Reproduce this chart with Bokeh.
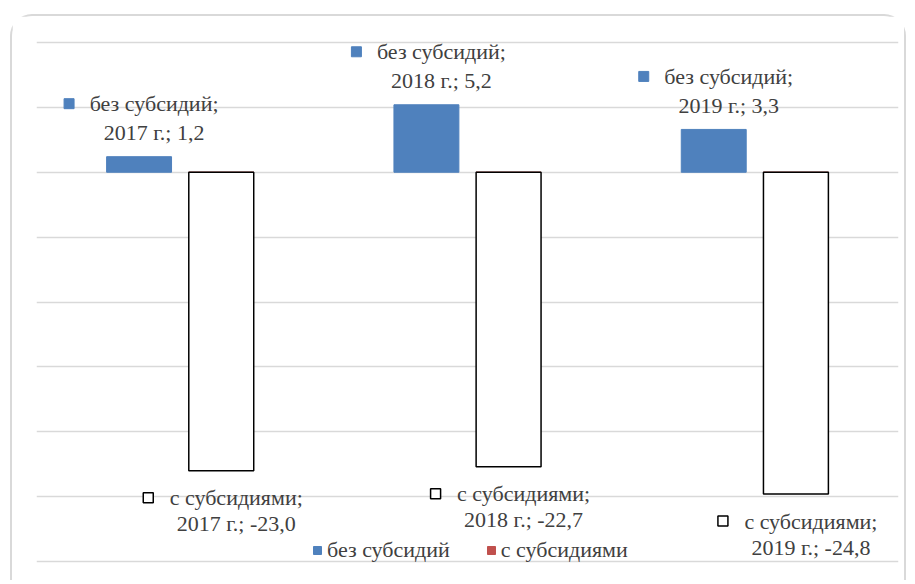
from bokeh.plotting import figure
from bokeh.models import ColumnDataSource, Range1d, FixedTicker, Legend, LegendItem
from bokeh.core.properties import value
from bokeh.embed import file_html
from bokeh.resources import INLINE

years = ["2017", "2018", "2019"]
without_subsidies = [1.2, 5.2, 3.3]
with_subsidies = [-23.0, -22.7, -24.8]
series_names = ["без субсидий", "с субсидиями"]
y_ticks = [-30, -25, -20, -15, -10, -5, 0, 5, 10]

BLUE = "#4F81BD"
RED = "#C0504D"
TEXT = "#404040"
GRID = "#d9d9d9"
FONT = "Liberation Serif"
FS = "22px"

W_PX, H_PX = 896, 566
ML, MR, MT, MB = 24, 10, 24, 19
FRAME_W = W_PX - ML - MR
FRAME_H = H_PX - MT - MB
PAD_PX = 2
UNIT_PX = (FRAME_H - 2 * PAD_PX) / 40.0
PX_X = 3 / FRAME_W
PX_Y = 1 / UNIT_PX
OFF = 0.143
BW = 0.226


def fmt(v):
    return f"{v:.1f}".replace(".", ",")


idx = list(range(len(years)))
xa = [i + 0.5 - OFF for i in idx]
xb = [i + 0.5 + OFF for i in idx]

src_a = ColumnDataSource(dict(
    x=xa, top=without_subsidies,
    tx=[x + 15 * PX_X for x in xa],
    kx=[x - 70 * PX_X for x in xa],
    y1=[v + 53 * PX_Y for v in without_subsidies],
    y2=[v + 24 * PX_Y for v in without_subsidies],
    line1=[series_names[0] + ";" for _ in years],
    line2=[f"{y} г.; {fmt(v)}" for y, v in zip(years, without_subsidies)],
))
src_b = ColumnDataSource(dict(
    x=xb, top=with_subsidies, zero=[0.0 for _ in years],
    tx=[x + 15 * PX_X for x in xb],
    kx=[x - 73 * PX_X for x in xb],
    y1=[v - 27 * PX_Y for v in with_subsidies],
    y2=[v - 53 * PX_Y for v in with_subsidies],
    line1=[series_names[1] + ";" for _ in years],
    line2=[f"{y} г.; {fmt(v)}" for y, v in zip(years, with_subsidies)],
))

p = figure(width=W_PX, height=H_PX, x_range=Range1d(0, 3),
           y_range=Range1d(-30 - PAD_PX * PX_Y, 10 + PAD_PX * PX_Y),
           output_backend="svg", toolbar_location=None,
           min_border_left=ML, min_border_right=MR, min_border_top=MT, min_border_bottom=MB)
p.styles = {"margin-left": "10px", "margin-top": "14px",
            "border": "2px solid #d9d9d9", "border-bottom": "none",
            "border-radius": "22px 22px 0 0"}
p.outline_line_color = None
p.xaxis.visible = False
p.yaxis.visible = False
p.xgrid.visible = False
p.ygrid.ticker = FixedTicker(ticks=y_ticks)
p.ygrid.grid_line_color = GRID
p.ygrid.grid_line_width = 1.5

ra = p.vbar(x="x", top="top", bottom=0, width=BW, source=src_a,
            fill_color=BLUE, line_color=BLUE)
# legend-only renderer for the "с субсидиями" series colour (zero-height bars,
# hidden beneath the outlined bars drawn next)
r_red = p.vbar(x="x", top="zero", bottom="zero", width=BW, source=src_b,
               fill_color=RED, line_color=RED)
rb = p.vbar(x="x", top="top", bottom=0, width=BW, source=src_b,
            fill_color="white", line_color="black", line_width=1.5)

for src in (src_a, src_b):
    for col_y, col_t in (("y1", "line1"), ("y2", "line2")):
        p.text(x="tx", y=col_y, text=col_t, source=src,
               text_font=value(FONT), text_font_size=FS, text_color=TEXT,
               text_align="center", text_baseline="middle")

p.scatter(x="kx", y="y1", source=src_a, marker="square", size=10,
          fill_color=BLUE, line_color=BLUE)
p.scatter(x="kx", y="y1", source=src_b, marker="square", size=10,
          fill_color="white", line_color="black", line_width=1.5)

legend = Legend(items=[LegendItem(label=series_names[0], renderers=[ra]),
                       LegendItem(label=series_names[1], renderers=[r_red])],
                orientation="horizontal", location=(276, 0),
                label_text_font=FONT, label_text_font_size=FS, label_text_color=TEXT,
                glyph_width=10, glyph_height=10, label_standoff=5, spacing=36,
                label_height=16, padding=0, margin=0,
                border_line_alpha=0, background_fill_alpha=0)
p.add_layout(legend)

open("out.html", "w").write(file_html(p, INLINE))
